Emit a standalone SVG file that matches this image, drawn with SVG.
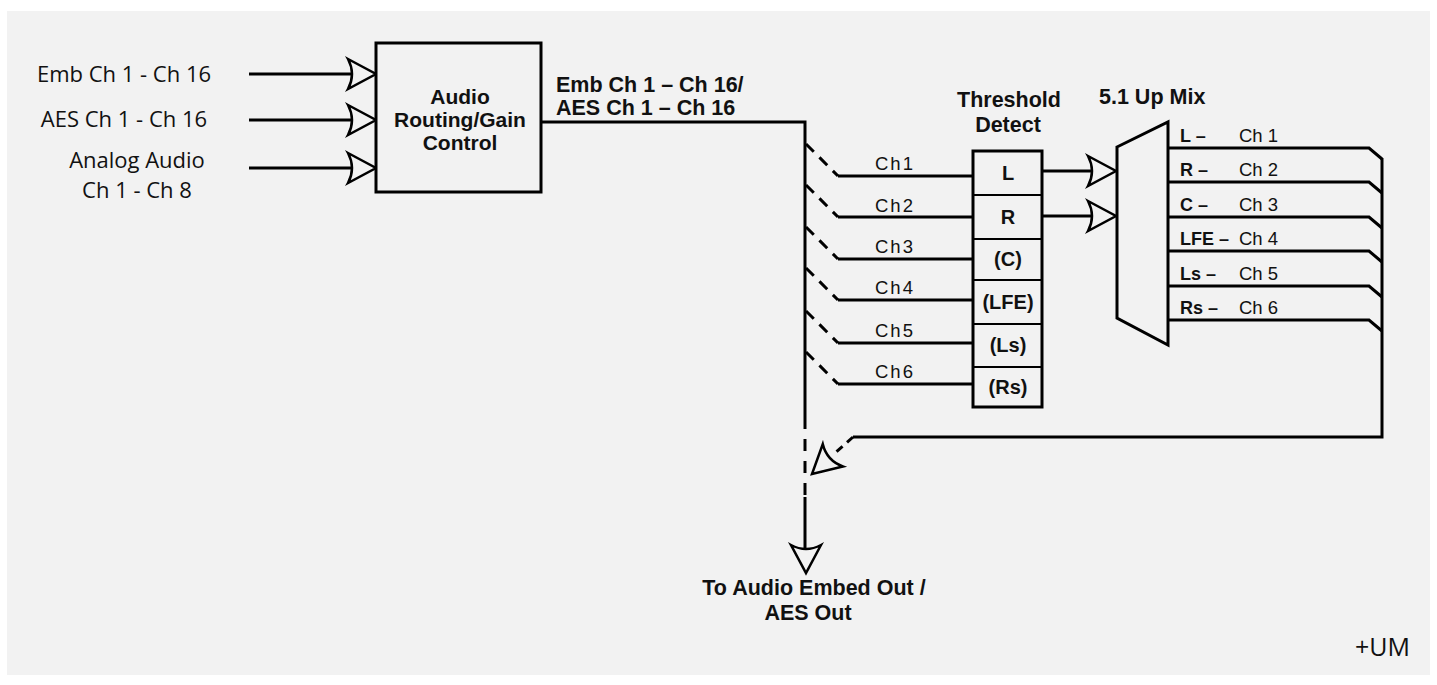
<svg xmlns="http://www.w3.org/2000/svg" xmlns:xlink="http://www.w3.org/1999/xlink" width="1437" height="685" viewBox="0 0 1437 685">
<style>
.ln{fill:none;stroke:#000;stroke-width:3}
.thin{fill:none;stroke:#000;stroke-width:2}
.dash{fill:none;stroke:#000;stroke-width:3;stroke-dasharray:11 8}
.box{fill:#f2f2f2;stroke:#000;stroke-width:3}
.ah{fill:#f2f2f2;stroke:#000;stroke-width:2.5;stroke-linejoin:miter}
.b{font-family:"Liberation Sans",Arial,sans-serif;font-weight:bold;font-size:21.5px;fill:#111}
.bc{font-family:"Liberation Sans",Arial,sans-serif;font-weight:bold;font-size:20px;fill:#111;text-anchor:middle}
.bm{font-family:"Liberation Sans",Arial,sans-serif;font-weight:bold;font-size:18px;fill:#111}
.r{font-family:"Liberation Sans",Arial,sans-serif;font-size:18.5px;fill:#111}
.ch{font-family:"Liberation Sans",Arial,sans-serif;font-size:18.5px;letter-spacing:2px;fill:#111}
.in{font-family:"Open Sans","Liberation Sans",sans-serif;font-size:22px;fill:#111;text-anchor:middle}
</style>
<defs>
<path id="ah" class="ah" d="M-28,-15 L0,0 L-28,15 Q-20,0 -28,-15 Z"/>
</defs>
<rect x="7" y="11" width="1423" height="664" fill="#f2f2f2"/>

<g id="connectors">
<path class="ln" d="M249,74 H352 M249,120 H352 M249,168 H352"/>
<use xlink:href="#ah" transform="translate(376,74)"/>
<use xlink:href="#ah" transform="translate(376,120)"/>
<use xlink:href="#ah" transform="translate(376,168)"/>
<path class="ln" d="M541,122 H805 V417"/>
<path class="ln" d="M805,417 V497" stroke-dasharray="12 10"/>
<path class="ln" d="M805,497 V548"/>
<use xlink:href="#ah" transform="translate(806,573) rotate(90)"/>
<path class="dash" d="M806,144 L838,176 M806,185 L838,217 M806,227 L838,259 M806,268 L838,300 M806,311 L838,343 M806,352 L838,384"/>
<path class="ln" d="M838,176 H973 M838,217 H973 M838,259 H973 M838,300 H973 M838,343 H973 M838,384 H973"/>
<path class="ln" d="M1042,171 H1092 M1042,216 H1092"/>
<use xlink:href="#ah" transform="translate(1116,171)"/>
<use xlink:href="#ah" transform="translate(1116,216)"/>
<path class="ln" d="M1168,148 H1369 L1382,159 M1168,182 H1369 L1382,193 M1168,217 H1369 L1382,228 M1168,251 H1369 L1382,262 M1168,286 H1369 L1382,297 M1168,320 H1369 L1382,331"/>
<path class="ln" d="M1382,158 V437 H853"/>
<path class="ln" d="M853,437 L835,453" stroke-dasharray="8 6"/>
<use xlink:href="#ah" transform="translate(812,474) rotate(138)"/>
</g>

<g id="inputs-labels">
<text class="in" x="124" y="82">Emb Ch 1 - Ch 16</text>
<text class="in" x="124" y="127">AES Ch 1 - Ch 16</text>
<text class="in" x="137" y="168">Analog Audio</text>
<text class="in" x="137" y="198">Ch 1 - Ch 8</text>
</g>

<g id="routing">
<rect class="box" x="376" y="43" width="165" height="149"/>
<text class="bc" style="font-size:21px" x="460" y="104">Audio</text>
<text class="bc" style="font-size:21px" x="460" y="127">Routing/Gain</text>
<text class="bc" style="font-size:21px" x="460" y="150">Control</text>
</g>

<g id="bus-label">
<text class="b" x="556" y="92">Emb Ch 1 – Ch 16/</text>
<text class="b" x="556" y="115">AES Ch 1 – Ch 16</text>
</g>

<g id="channel-labels">
<text class="ch" x="875" y="170">Ch1</text>
<text class="ch" x="875" y="212">Ch2</text>
<text class="ch" x="875" y="253">Ch3</text>
<text class="ch" x="875" y="294">Ch4</text>
<text class="ch" x="875" y="337">Ch5</text>
<text class="ch" x="875" y="378">Ch6</text>
</g>

<g id="threshold">
<text class="b" x="1009" y="107" text-anchor="middle">Threshold</text>
<text class="b" x="1008" y="132" text-anchor="middle">Detect</text>
<rect class="box" x="973" y="151" width="69" height="256"/>
<path class="thin" d="M973,195 H1042 M973,239 H1042 M973,280 H1042 M973,324 H1042 M973,367 H1042"/>
<text class="bc" x="1008" y="180">L</text>
<text class="bc" x="1008" y="224">R</text>
<text class="bc" x="1008" y="266">(C)</text>
<text class="bc" x="1008" y="309">(LFE)</text>
<text class="bc" x="1008" y="352">(Ls)</text>
<text class="bc" x="1008" y="394">(Rs)</text>
</g>

<g id="upmix">
<text class="b" x="1099" y="104">5.1 Up Mix</text>
<path class="box" d="M1117,147 L1168,122 V345 L1117,318 Z"/>
<text class="bm" x="1180" y="142">L –</text>
<text class="bm" x="1180" y="176">R –</text>
<text class="bm" x="1180" y="211">C –</text>
<text class="bm" x="1180" y="245">LFE –</text>
<text class="bm" x="1180" y="280">Ls –</text>
<text class="bm" x="1180" y="314">Rs –</text>
<text class="r" x="1239" y="142">Ch 1</text>
<text class="r" x="1239" y="176">Ch 2</text>
<text class="r" x="1239" y="211">Ch 3</text>
<text class="r" x="1239" y="245">Ch 4</text>
<text class="r" x="1239" y="280">Ch 5</text>
<text class="r" x="1239" y="314">Ch 6</text>
</g>

<g id="output-label">
<text class="bc" style="font-size:21.5px" x="814" y="595">To Audio Embed Out /</text>
<text class="bc" style="font-size:21.5px" x="808" y="620">AES Out</text>
</g>

<text x="1410" y="656" text-anchor="end" style="font-family:'Open Sans','Liberation Sans',sans-serif;font-size:25px;fill:#111">+UM</text>
</svg>
